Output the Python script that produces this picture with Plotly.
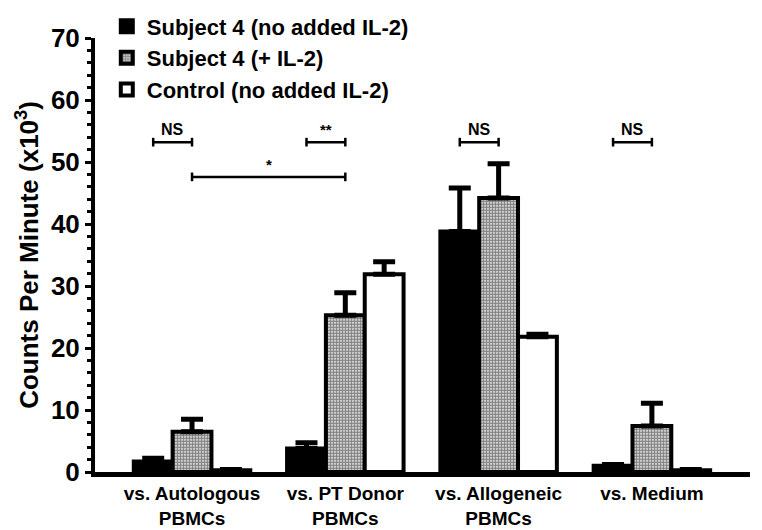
import plotly.graph_objects as go

# ---- data ----
categories = ["vs. Autologous<br>PBMCs", "vs. PT Donor<br>PBMCs", "vs. Allogeneic<br>PBMCs", "vs. Medium"]
series_names = ["Subject 4 (no added IL-2)", "Subject 4 (+ IL-2)", "Control (no added IL-2)"]
subj_no_il2 = [1.7, 3.8, 38.8, 1.0]
subj_no_il2_err = [0.5, 0.9, 7.0, 0.2]
subj_il2 = [6.5, 25.3, 44.2, 7.4]
subj_il2_err = [2.0, 3.6, 5.5, 3.7]
control = [0.3, 31.9, 21.8, 0.3]
control_err = [0.1, 2.0, 0.4, 0.1]
y_ticks = [0, 10, 20, 30, 40, 50, 60, 70]

# significance brackets: (group_a, series_a, group_b, series_b, level, label)
brackets = [
    (0, 0, 0, 1, 53.2, "NS"),
    (1, 0, 1, 1, 53.2, "**"),
    (0, 1, 1, 1, 47.6, "*"),
    (2, 0, 2, 1, 53.2, "NS"),
    (3, 0, 3, 1, 53.2, "NS"),
]

FONT = "Liberation Sans"
bargap = 0.24
n_series = 3
bar_w = (1 - bargap) / n_series

x_idx = list(range(len(categories)))

fig = go.Figure()
styles = [
    dict(color="black"),
    dict(color="white", pattern=dict(shape=".", fgcolor="black", bgcolor="white", size=3, solidity=0.7)),
    dict(color="white"),
]
vals = [subj_no_il2, subj_il2, control]
errs = [subj_no_il2_err, subj_il2_err, control_err]
for name, v, e, st in zip(series_names, vals, errs, styles):
    fig.add_trace(go.Bar(
        name=name, x=x_idx, y=v,
        marker=dict(line=dict(color="black", width=4), **st),
        error_y=dict(type="data", symmetric=False, array=e, arrayminus=[0] * len(e),
                     color="black", thickness=5, width=11),
    ))

# brackets
def sx(g, s):
    return g + (s - (n_series - 1) / 2) * bar_w

tick_h = 0.7
for ga, sa, gb, sb, lvl, lab in brackets:
    xa, xb = sx(ga, sa), sx(gb, sb)
    fig.add_shape(type="line", x0=xa, x1=xb, y0=lvl, y1=lvl, xref="x", yref="y",
                  line=dict(color="black", width=2.5))
    for xx in (xa, xb):
        fig.add_shape(type="line", x0=xx, x1=xx, y0=lvl - tick_h, y1=lvl + tick_h, xref="x", yref="y",
                      line=dict(color="black", width=2.5))
    fig.add_annotation(x=(xa + xb) / 2, y=lvl, xref="x", yref="y", text=lab, showarrow=False,
                       yanchor="bottom", yshift=2,
                       font=dict(family=FONT, size=16 if lab == "NS" else 15, color="black", weight="bold"))

fig.update_layout(
    width=762, height=530,
    margin=dict(l=95, r=12, t=38, b=58, autoexpand=False),
    plot_bgcolor="white", paper_bgcolor="white",
    barmode="group", bargap=bargap, bargroupgap=0,
    font=dict(family=FONT, color="black"),
    legend=dict(x=0.018, y=1.075, xanchor="left", yanchor="top", bgcolor="rgba(0,0,0,0)",
                font=dict(family=FONT, size=22, color="black", weight="bold"),
                tracegroupgap=0),
    xaxis=dict(range=[-0.633, 3.64], tickvals=x_idx, ticktext=categories,
               showline=True, linecolor="black", linewidth=5, ticks="", showgrid=False, zeroline=False,
               tickfont=dict(family=FONT, size=19, color="black", weight="bold")),
    yaxis=dict(range=[0, 70], tickvals=y_ticks, showline=True, linecolor="black", linewidth=4,
               ticks="outside", ticklen=6, tickwidth=3, tickcolor="black",
               minor=dict(dtick=2, ticks="outside", ticklen=4, tickwidth=3, tickcolor="black"),
               showgrid=False, zeroline=False,
               tickfont=dict(family=FONT, size=26, color="black", weight="bold"),
               title=dict(text="Counts Per Minute (x10<sup>3</sup>)", standoff=6,
                          font=dict(family=FONT, size=26, color="black", weight="bold"))),
)

fig.write_html("out.html", config={"displayModeBar": False},
               post_script="document.body.style.margin='0';document.body.style.overflow='hidden';")
